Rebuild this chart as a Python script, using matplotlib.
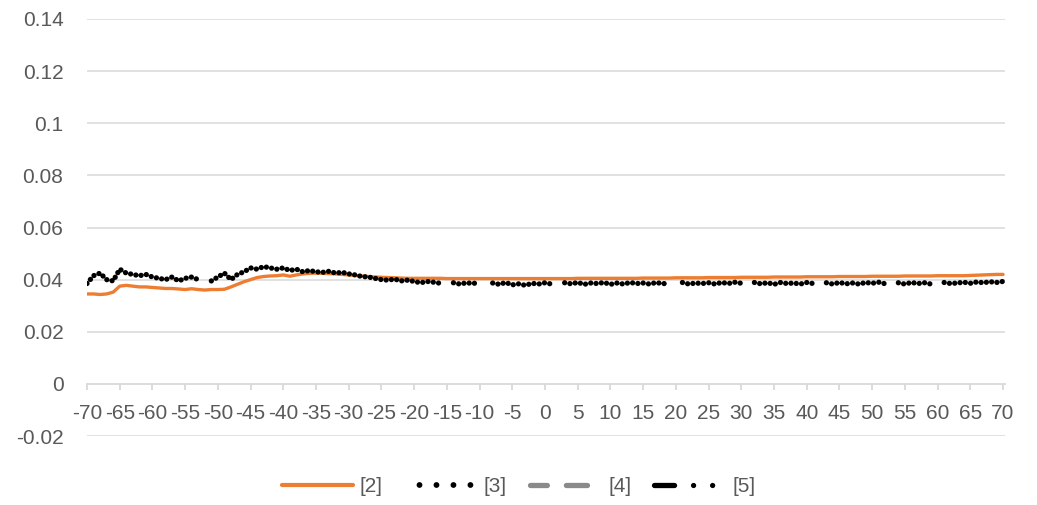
import numpy as np
import matplotlib
matplotlib.use("Agg")
import matplotlib.pyplot as plt
from matplotlib.lines import Line2D

plt.rcParams['font.family'] = ['Liberation Sans', 'DejaVu Sans']

# Angle positions (categories) and tick labels
angles = list(range(-70, 71))
tick_values = list(range(-70, 71, 5))
y_ticks = [-0.02, 0, 0.02, 0.04, 0.06, 0.08, 0.1, 0.12, 0.14]
y_tick_labels = ['-0.02', '0', '0.02', '0.04', '0.06', '0.08', '0.1', '0.12', '0.14']

series_names = ['[2]', '[3]', '[4]', '[5]']

# Series [2]
s2 = [0.0345, 0.0345, 0.0343, 0.0345, 0.0352,
      0.0375, 0.0378, 0.0375, 0.0372, 0.0372,
      0.0370, 0.0368, 0.0366, 0.0366, 0.0364,
      0.0362, 0.0365, 0.0362, 0.0360, 0.0362,
      0.0362, 0.0363, 0.0372, 0.0382, 0.0392,
      0.0400, 0.0408, 0.0412, 0.0414, 0.0415,
      0.0418, 0.0413, 0.0418, 0.0422, 0.0424,
      0.0425, 0.0424, 0.0423, 0.0422, 0.0420,
      0.0418, 0.0416, 0.0414, 0.0412, 0.0410,
      0.0409, 0.0408, 0.0407, 0.0406, 0.0405,
      0.0405, 0.0405, 0.0405, 0.0405, 0.0405,
      0.0404, 0.0404, 0.0404, 0.0404, 0.0404,
      0.0404, 0.0404, 0.0404, 0.0404, 0.0404,
      0.0404, 0.0404, 0.0404, 0.0404, 0.0404,
      0.0404, 0.0404, 0.0404, 0.0404, 0.0404,
      0.0405, 0.0405, 0.0405, 0.0405, 0.0405,
      0.0405, 0.0405, 0.0405, 0.0405, 0.0405,
      0.0406, 0.0406, 0.0406, 0.0406, 0.0406,
      0.0407, 0.0407, 0.0407, 0.0407, 0.0407,
      0.0408, 0.0408, 0.0408, 0.0408, 0.0408,
      0.0409, 0.0409, 0.0409, 0.0409, 0.0409,
      0.0410, 0.0410, 0.0410, 0.0410, 0.0410,
      0.0411, 0.0411, 0.0411, 0.0411, 0.0411,
      0.0412, 0.0412, 0.0412, 0.0412, 0.0412,
      0.0413, 0.0413, 0.0413, 0.0413, 0.0413,
      0.0414, 0.0414, 0.0414, 0.0414, 0.0414,
      0.0415, 0.0415, 0.0415, 0.0415, 0.0415,
      0.0416, 0.0417, 0.0418, 0.0419, 0.0420, 0.0420]

nan = float('nan')
# Series [3]
s3 = [0.0385, 0.0415, 0.0425, 0.0400, 0.0395,
      0.0440, 0.0425, 0.0420, 0.0415, 0.0420,
      0.0410, 0.0405, 0.0400, 0.0410, 0.0395,
      0.0405, 0.0410, 0.0400, nan, 0.0395,
      0.0410, 0.0425, 0.0400, 0.0420, 0.0430,
      0.0445, 0.0440, 0.0450, 0.0445, 0.0440,
      0.0445, 0.0435, 0.0440, 0.0430, 0.0435,
      0.0430, 0.0428, 0.0432, 0.0425, 0.0428,
      0.0422, 0.0418, 0.0412, 0.0410, 0.0405,
      0.0400, 0.0398, 0.0402, 0.0395, 0.0398,
      0.0393, 0.0388, 0.0393, 0.0390, 0.0386,
      nan, 0.0388, 0.0383, 0.0388, 0.0385,
      0.0390, nan, 0.0387, 0.0382, 0.0389,
      0.0380, 0.0384, 0.0378, 0.0386, 0.0383,
      0.0388, 0.0383, nan, 0.0388, 0.0384,
      0.0389, 0.0382, 0.0387, 0.0385, 0.0389,
      0.0382, 0.0387, 0.0383, 0.0389, 0.0385,
      0.0387, 0.0383, 0.0389, 0.0384, 0.0388,
      nan, 0.0389, 0.0383, 0.0387, 0.0385,
      0.0388, 0.0383, 0.0389, 0.0385, 0.0390,
      0.0386, nan, 0.0389, 0.0384, 0.0388,
      0.0382, 0.0389, 0.0385, 0.0387, 0.0383,
      0.0389, 0.0385, nan, 0.0388, 0.0383,
      0.0389, 0.0384, 0.0387, 0.0383, 0.0389,
      0.0386, 0.0390, 0.0384, nan, 0.0388,
      0.0383, 0.0389, 0.0385, 0.0388, 0.0383,
      nan, 0.0389, 0.0385, 0.0387, 0.0390,
      0.0386, 0.0391, 0.0388, 0.0392, 0.0389, 0.0393]

# Series [4] and [5] carry no plotted values
s4 = []
s5 = []

grey_text = '#595959'
grid_col = '#d9d9d9'

fig = plt.figure(figsize=(10.37, 5.05), dpi=100)
ax = fig.add_axes([87 / 1037, 1 - 436 / 505, (1005 - 87) / 1037, (436 - 19) / 505])

ax.set_xlim(-70, 70.3)
ax.set_ylim(-0.02, 0.14)

for yv in y_ticks:
    if yv != 0:
        ax.axhline(yv, color=grid_col, lw=1.1, zorder=0)

for name in ('top', 'left', 'right'):
    ax.spines[name].set_visible(False)
# category axis runs along the zero line
ax.spines['bottom'].set_position(('data', 0))
ax.spines['bottom'].set_color(grid_col)
ax.spines['bottom'].set_linewidth(1.3)
ax.spines['bottom'].set_zorder(0)

ax.set_yticks(y_ticks)
ax.set_yticklabels(y_tick_labels)
ax.tick_params(axis='y', length=0, pad=17, labelsize=15, labelcolor=grey_text)

ax.set_xticks(tick_values)
ax.set_xticklabels([str(t) for t in tick_values])
ax.tick_params(axis='x', direction='out', length=4.5, width=1.3, color=grid_col,
               pad=10, labelsize=15, labelcolor=grey_text)

l2, = ax.plot(angles, s2, color='#ED7D31', lw=2.4, solid_capstyle='round', zorder=3,
              label=series_names[0])
l3, = ax.plot(angles, s3, color='black', lw=3.8, linestyle=(0, (0.01, 1.0)),
              dash_capstyle='round', zorder=4, label=series_names[1])
ax.plot(s4, s4, color='#7f7f7f', lw=3.6)
ax.plot(s5, s5, color='black', lw=3.6)

# legend keys
h2 = Line2D([], [], color='#ED7D31', lw=3.0, solid_capstyle='round')
h3 = Line2D([], [], color='black', lw=4.2, linestyle=(0.6, (0.01, 2.9)), dash_capstyle='round')
h4 = Line2D([], [], color='#8a8a8a', lw=3.8, linestyle=(0.8, (4.0, 3.6)),
            dash_capstyle='round')
h5 = Line2D([], [], color='black', lw=3.8, linestyle=(0.8, (4.6, 3.6, 0.01, 3.6, 0.01, 3.6)),
            dash_capstyle='round')

leg = fig.legend(handles=[h2, h3, h4, h5], labels=series_names, loc='center',
                 bbox_to_anchor=(0.5, 1 - 487 / 505),
                 ncol=4, frameon=False, fontsize=15, handlelength=3.4, handletextpad=0.35,
                 columnspacing=1.1)
for txt in leg.get_texts():
    txt.set_color(grey_text)

fig.savefig('out.png', dpi=100)
